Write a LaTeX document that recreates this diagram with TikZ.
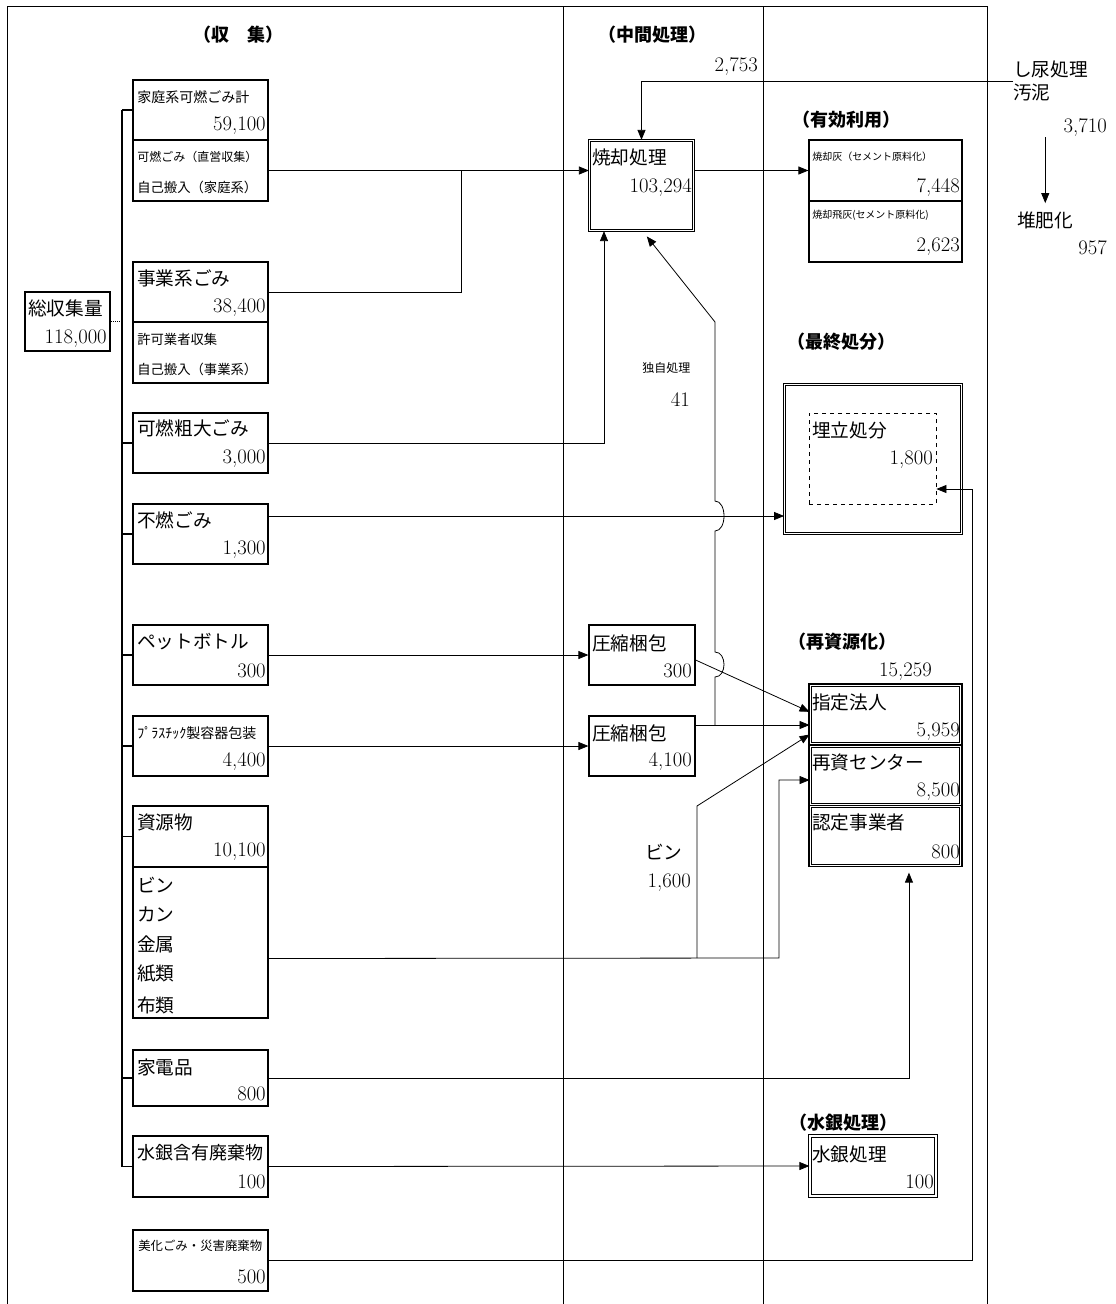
\documentclass[tikz,border=0pt]{standalone}
\usepackage{fontspec}
\newfontfamily\jp{Noto Sans CJK JP}
\usepackage{tikz}
\usetikzlibrary{arrows.meta}

\begin{document}
\begin{tikzpicture}[x=0.75pt,y=-0.75pt,
 ln/.style={line width=0.6pt},
 arr/.style={ln,-{Triangle[length=7.5pt,width=6pt]}},
 frame/.style={line width=0.75pt},
 box/.style={draw,line width=0.9pt,inner sep=0pt,minimum width=101.25pt},
 dbox/.style={draw,double,double distance=0.9pt,line width=0.9pt,inner sep=0pt},
 hd/.style={font=\jp\bfseries\fontsize{13.5}{16}\selectfont},
 lb/.style={anchor=west,inner sep=0pt,font=\jp\fontsize{14}{17}\selectfont},
 lbs/.style={lb,font=\jp\fontsize{10}{12}\selectfont},
 lbm/.style={lb,font=\jp\fontsize{9}{11}\selectfont},
 lbx/.style={lb,font=\jp\fontsize{7.5}{9}\selectfont},
 val/.style={anchor=east,inner sep=0pt,font=\fontsize{15.5}{17}\selectfont}]
\useasboundingbox (0,0) rectangle (1116,1304);
\draw[frame] (7,1304) -- (7,6) -- (987,6) -- (987,1304);
\draw[frame] (563,6) -- (563,1304);
\draw[frame] (763,6) -- (763,1304);

\node[hd] (h1) at (238,35) {（収　集）};
\node[hd] (h2) at (652,35) {（中間処理）};
\node[hd] (h3) at (846,120) {（有効利用）};
\node[hd] (h4) at (841,342) {（最終処分）};
\node[hd] (h5) at (842,642) {（再資源化）};
\node[hd] (h6) at (843,1123) {（水銀処理）};

\node[box,minimum width=63.75pt,minimum height=44.25pt] (tot) at (67.5,321.5) {};
\node[lb] (tott) at (28,308) {総収集量};
\node[val] (totv) at (107,339) {118,000};

\node[box,minimum height=45pt] (hh) at (200.5,110) {};
\node[box,minimum height=45.75pt] (hhs) at (200.5,170.5) {};
\node[lbs,font=\jp\fontsize{10.5}{12}\selectfont] (hht) at (137,97) {家庭系可燃ごみ計};
\node[val] (hhv) at (266,126) {59,100};
\node[lbm] (hhs1) at (137,157) {可燃ごみ（直営収集）};
\node[lbs] (hhs2) at (137,187) {自己搬入（家庭系）};

\node[box,minimum height=45pt] (biz) at (200.5,292) {};
\node[box,minimum height=45.75pt] (bizs) at (200.5,352.5) {};
\node[lb] (bizt) at (137,278) {事業系ごみ};
\node[val] (bizv) at (266,308) {38,400};
\node[lbs] (bizs1) at (137,339) {許可業者収集};
\node[lbs] (bizs2) at (137,369) {自己搬入（事業系）};

\node[box,minimum height=45pt] (bulky) at (200.5,443) {};
\node[lb] (bulkyt) at (137,428) {可燃粗大ごみ};
\node[val] (bulkyv) at (266,459) {3,000};

\node[box,minimum height=45pt] (nonc) at (200.5,534) {};
\node[lb] (nonct) at (137,520) {不燃ごみ};
\node[val] (noncv) at (266,550) {1,300};

\node[box,minimum height=45pt] (pet) at (200.5,655) {};
\node[lb] (pett) at (137,642) {ペットボトル};
\node[val] (petv) at (266,671) {300};

\node[box,minimum height=45pt] (pla) at (200.5,746) {};
\node[lbs,font=\jp\fontsize{10.5}{12}\selectfont] (plat) at (137,733) {ﾌﾟﾗｽﾁｯｸ製容器包装};
\node[val] (plav) at (266,762) {4,400};

\node[box,minimum height=45.75pt] (res) at (200.5,836.5) {};
\node[box,minimum height=113.25pt] (ress) at (200.5,942.5) {};
\node[lb] (rest) at (137,822) {資源物};
\node[val] (resv) at (266,852) {10,100};
\node[lb] (rs1) at (137,885) {ビン};
\node[lb] (rs2) at (137,914) {カン};
\node[lb] (rs3) at (137,944) {金属};
\node[lb] (rs4) at (137,974) {紙類};
\node[lb] (rs5) at (137,1005) {布類};

\node[box,minimum height=42pt] (kad) at (200.5,1078) {};
\node[lb] (kadt) at (137,1067) {家電品};
\node[val] (kadv) at (266,1094) {800};

\node[box,minimum height=45.75pt] (hg) at (200.5,1166.5) {};
\node[lb,font=\jp\fontsize{13.5}{16}\selectfont] (hgt) at (137,1153) {水銀含有廃棄物};
\node[val] (hgv) at (266,1182) {100};

\node[box,minimum height=45.75pt] (bika) at (200.5,1260.5) {};
\node[lb,font=\jp\fontsize{9.3}{11}\selectfont] (bikat) at (138,1246) {美化ごみ・災害廃棄物};
\node[val] (bikav) at (266,1277) {500};

\node[dbox,minimum width=78pt,minimum height=67.5pt] (inc) at (641.5,185.5) {};
\node[lb] (inct) at (592,157) {焼却処理};
\node[val] (incv) at (692,188) {103,294};
\node[val] (incin) at (758,67) {2,753};

\node[box,minimum width=79.5pt,minimum height=45pt] (cp1) at (642,655) {};
\node[lb] (cp1t) at (592,643) {圧縮梱包};
\node[val] (cp1v) at (692,671) {300};
\node[box,minimum width=79.5pt,minimum height=45pt] (cp2) at (642,746) {};
\node[lb] (cp2t) at (592,733) {圧縮梱包};
\node[val] (cp2v) at (692,762) {4,100};

\node[lbm] (own) at (642,368) {独自処理};
\node[val] (ownv) at (690,400) {41};
\node[lb] (bin) at (645,852) {ビン};
\node[val] (binv) at (691,883) {1,600};

\node[box,minimum width=114.75pt,minimum height=45.75pt] (ash1) at (885.5,170.5) {};
\node[box,minimum width=114.75pt,minimum height=45.75pt] (ash2) at (885.5,231.5) {};
\node[lbx] (ash1t) at (812,157) {焼却灰（セメント原料化）};
\node[val] (ash1v) at (960,188) {7,448};
\node[lbx] (ash2t) at (812,215) {焼却飛灰(セメント原料化)};
\node[val] (ash2v) at (960,247) {2,623};

\node[dbox,minimum width=132.5pt,minimum height=111.5pt] (land) at (873,459) {};
\node[draw,dashed,line width=0.6pt,inner sep=0pt,minimum width=95.25pt,minimum height=68.25pt] (lin) at (872.5,458.5) {};
\node[lb] (lint) at (812,430) {埋立処分};
\node[val] (linv) at (933,460) {1,800};

\node[val] (recv) at (932,672) {15,259};
\node[dbox,minimum width=113pt,minimum height=44pt] (rec1) at (885.5,714.5) {};
\node[dbox,minimum width=113pt,minimum height=44pt] (rec2) at (885.5,775.5) {};
\node[dbox,minimum width=113pt,minimum height=44pt] (rec3) at (885.5,836) {};
\node[lb] (rec1t) at (812,702) {指定法人};
\node[val] (rec1v) at (960,732) {5,959};
\node[lb] (rec2t) at (812,762) {再資センター};
\node[val] (rec2v) at (960,792) {8,500};
\node[lb] (rec3t) at (812,822) {認定事業者};
\node[val] (rec3v) at (960,852) {800};

\node[dbox,minimum width=94.5pt,minimum height=45pt] (hgp) at (873,1166) {};
\node[lb] (hgpt) at (812,1154) {水銀処理};
\node[val] (hgpv) at (934,1182) {100};

\node[lb,align=left] (sl) at (1013,81) {し尿処理\\汚泥};
\node[val] (slv) at (1107,128) {3,710};
\node[lb] (cmp) at (1017,220) {堆肥化};
\node[val] (cmpv) at (1107,248) {957};

\coordinate (tk) at (122,321.5);
\coordinate (j1) at (461,171);
\coordinate (b1) at (604,443);
\coordinate (k1) at (715,322);
\coordinate (k2) at (715,725);
\coordinate (v1) at (697,958);
\coordinate (v2) at (779,958);
\coordinate (r1) at (972,489);

\draw[ln,densely dotted] (tot.east) -- (tk);
\draw[line width=0.9pt] (hh.west -| tk) -- (hg.west -| tk);
\draw[line width=0.9pt] (hh.west -| tk) -- (hh.west);
\draw[line width=0.9pt] (bulky.west -| tk) -- (bulky.west);
\draw[line width=0.9pt] (nonc.west -| tk) -- (nonc.west);
\draw[line width=0.9pt] (pet.west -| tk) -- (pet.west);
\draw[line width=0.9pt] (pla.west -| tk) -- (pla.west);
\draw[line width=0.9pt] (res.west -| tk) -- (res.west);
\draw[line width=0.9pt] (kad.west -| tk) -- (kad.west);
\draw[line width=0.9pt] (hg.west -| tk) -- (hg.west);

\draw[arr] (hhs.east) -- (hhs.east -| inc.west);
\draw[ln] (biz.east) -| (j1);
\draw[arr] (bulky.east) -- (b1) -- (b1 |- inc.south);
\draw[arr] (sl.west) -| (inc.north);
\draw[arr] (slv.south -| cmp.north) -- ([yshift=6pt]cmp.north);
\draw[arr] (inc.east |- ash1.west) -- (ash1.west);
\draw[arr] ([yshift=13.5pt]nonc.east) -- ([yshift=13.5pt]nonc.east -| land.west);
\draw[arr] (pet.east) -- (cp1.west);
\draw[arr] (pla.east) -- (cp2.west);
\draw[arr] ([yshift=-3.75pt]cp1.east) -- ([yshift=2pt]rec1.west);
\draw[arr] ([yshift=15.75pt]cp2.east) -- ([yshift=15.75pt]cp2.east -| rec1.west);
\draw[arr] (k2) -- ++(0,-48) .. controls +(12,0) and +(12,0) .. ++(0,-25) -- ++(0,-121)
 .. controls +(12,0) and +(12,0) .. ++(0,-30) -- (k1) -- ([xshift=4pt,yshift=-4pt]inc.south);
\draw[arr] ([yshift=-12pt]ress.east) -- (v2) |- ([yshift=-3.4pt]rec2.west);
\draw[arr] (v1) -- ++(0,-152) -- ([yshift=-15pt]rec1.west);
\draw[arr] (kad.east) -| ([xshift=17.6pt,yshift=-5pt]rec3.south);
\draw[arr] (hg.east) -- (hgp.west);
\draw[arr] (bika.east) -| (r1) -- (r1 -| lin.east);
\end{tikzpicture}
\end{document}
